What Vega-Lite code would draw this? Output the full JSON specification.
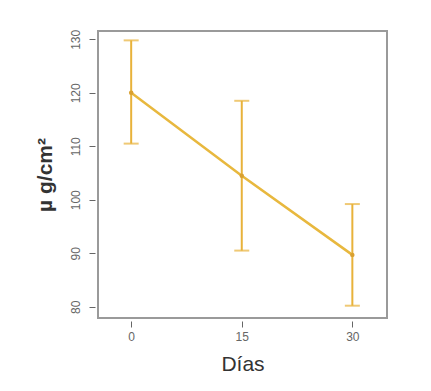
{
  "$schema": "https://vega.github.io/schema/vega-lite/v6.json",
  "autosize": "none",
  "width": 289,
  "height": 287,
  "padding": {"left": 98, "top": 31, "right": 44, "bottom": 73},
  "background": "white",
  "config": {
    "view": {"stroke": "#9a9a9a", "strokeWidth": 2},
    "font": "Liberation Sans"
  },
  "data": {"values": [
    {"dias": 0, "media": 120.0, "lo": 110.5, "hi": 129.8},
    {"dias": 15, "media": 104.5, "lo": 90.5, "hi": 118.5},
    {"dias": 30, "media": 89.7, "lo": 80.2, "hi": 99.2}
  ]},
  "encoding": {
    "x": {
      "field": "dias", "type": "quantitative",
      "scale": {"domain": [-4.5, 34.7], "nice": false, "zero": false},
      "axis": {
        "values": [0, 15, 30], "title": "Días", "grid": false, "domain": false,
        "offset": 3, "tickSize": 6, "tickColor": "#666", "labelColor": "#666",
        "labelFontSize": 12, "labelPadding": 4, "titleFontSize": 21,
        "titleFontWeight": "normal", "titleColor": "#333", "titlePadding": 11
      }
    }
  },
  "layer": [
    {
      "mark": {"type": "rule", "color": "#E8B23A", "strokeWidth": 2},
      "encoding": {
        "y": {"field": "lo", "type": "quantitative",
          "scale": {"domain": [77.9, 131.55], "nice": false, "zero": false},
          "axis": {
            "values": [80, 90, 100, 110, 120, 130], "title": "µ g/cm²", "grid": false, "domain": false,
            "offset": 3, "tickSize": 6, "tickColor": "#666", "labelColor": "#666",
            "labelFontSize": 12, "labelAngle": -90, "labelAlign": "center", "labelBaseline": "bottom",
            "labelPadding": 7, "titleFontSize": 21, "titleFontWeight": "bold", "titleColor": "#333",
            "titlePadding": 14
          }},
        "y2": {"field": "hi"}
      }
    },
    {
      "mark": {"type": "tick", "color": "#E8B23A", "orient": "horizontal", "size": 15, "thickness": 2},
      "encoding": {"y": {"field": "lo", "type": "quantitative"}}
    },
    {
      "mark": {"type": "tick", "color": "#E8B23A", "orient": "horizontal", "size": 15, "thickness": 2},
      "encoding": {"y": {"field": "hi", "type": "quantitative"}}
    },
    {
      "mark": {"type": "line", "color": "#E8B83E", "strokeWidth": 2.5},
      "encoding": {"y": {"field": "media", "type": "quantitative"}}
    },
    {
      "mark": {"type": "point", "filled": true, "color": "#D9A030", "size": 20, "opacity": 1},
      "encoding": {"y": {"field": "media", "type": "quantitative"}}
    }
  ]
}
